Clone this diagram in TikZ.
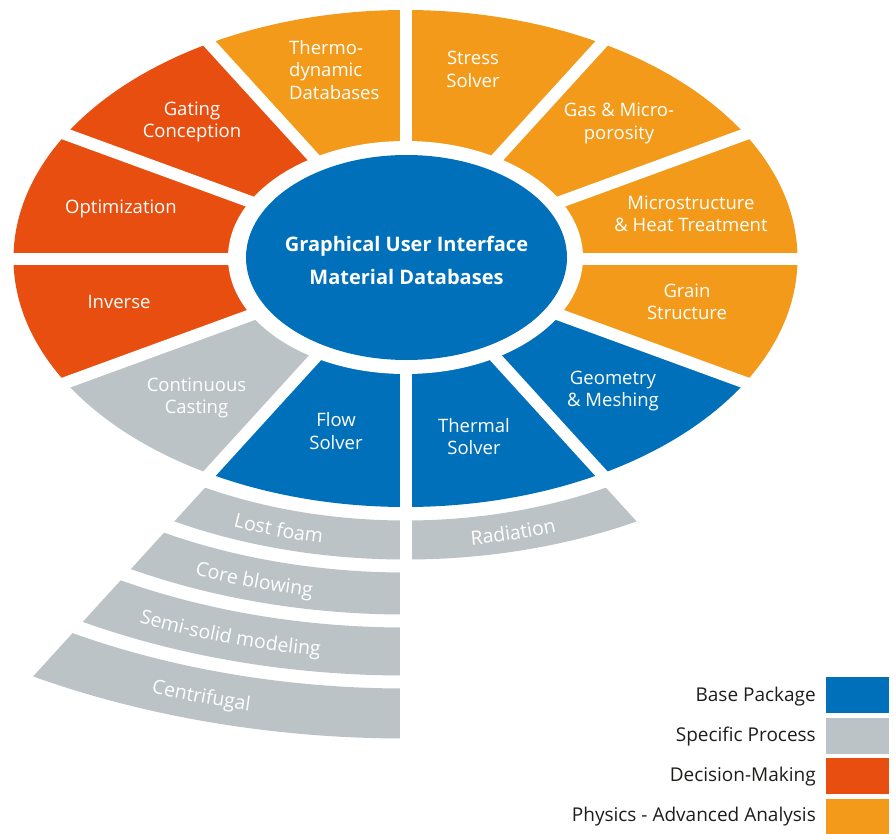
\documentclass[tikz,border=0pt]{standalone}
\usepackage{fontspec}
\setmainfont{Open Sans}
\usetikzlibrary{decorations.text}
\definecolor{cblue}{HTML}{0070BA}
\definecolor{cred}{HTML}{E84E0F}
\definecolor{corange}{HTML}{F39A1A}
\definecolor{cgrey}{HTML}{BCC3C6}
\definecolor{ctext}{HTML}{1D1D1B}
\begin{document}
\begin{tikzpicture}[x=1pt,y=1pt,
  lbl/.style={text=white, font=\fontsize{18.5}{22.5}\selectfont, align=center, inner sep=0pt},
  legtext/.style={text=ctext, font=\fontsize{19}{22.5}\selectfont, anchor=base east, inner sep=0pt},
  legbox/.style={minimum width=63pt, minimum height=36pt, inner sep=0pt, anchor=north west},
  gapline/.style={white, line width=12pt}]
\useasboundingbox (-405.5,-574.5) rectangle (490.5,258.5);
% ring sectors
\foreach \a/\b/\c in {90/120/corange, 60/90/corange, 30/60/corange, 0/30/corange,
  -30/0/corange, -60/-30/cblue, -90/-60/cblue, -120/-90/cblue, -150/-120/cgrey,
  180/210/cred, 150/180/cred, 120/150/cred}{
  \fill[\c] (0,0) -- (\a:392pt and 248.5pt)
    arc[start angle=\a, end angle=\b, x radius=392pt, y radius=248.5pt] -- cycle;
}
% outer bands
\foreach \a/\b/\ri/\rj/\Ri/\Rj in {-120/-90/262/301/413.3/474.8, -90/-60/262/301/413.3/474.8,
  -120/-90/314/356/495.3/561.6, -120/-90/369/417/582.1/657.8, -120/-90/430/480/678.3/757.2}{
  \fill[cgrey] (\a:\Ri pt and \ri pt)
    arc[start angle=\a, end angle=\b, x radius=\Ri pt, y radius=\ri pt]
    -- (\b:\Rj pt and \rj pt)
    arc[start angle=\b, end angle=\a, x radius=\Rj pt, y radius=\rj pt] -- cycle;
}
% white gaps
\foreach \a in {90,60,30,0,-30,-150,180,150,120}{
  \draw[gapline] (0,0) -- (\a:420pt and 266pt);
}
\draw[gapline] (0,0) -- (-60:500pt and 317pt);
\draw[gapline] (0,0) -- (-90:800pt and 507pt);
\draw[gapline] (0,0) -- (-120:800pt and 507pt);
% centre
\fill[white] (0,1) ellipse[x radius=177.5pt, y radius=116.5pt];
\fill[cblue] (1,1) ellipse[x radius=160.5pt, y radius=102.5pt];
\node[text=white, font=\bfseries\fontsize{20}{33}\selectfont, align=center, inner sep=0pt] (gui) at (1,-1.5)
  {Graphical User Interface\\Material Databases};
% sector labels
\node[lbl, align=left, anchor=west] (thermo) at (-116.5,188.5) {Thermo-\\dynamic\\Databases};
\node[lbl] (stress) at (67.5,189) {Stress\\Solver};
\node[lbl] (gas) at (213.5,135) {Gas \& Micro-\\porosity};
\node[lbl] (micro) at (285.5,44.5) {Microstructure\\\& Heat Treatment};
\node[lbl] (grain) at (281.5,-43.5) {Grain\\Structure};
\node[lbl] (geom) at (207.5,-132.5) {Geometry\\\& Meshing};
\node[lbl] (thermal) at (68.5,-178) {Thermal\\Solver};
\node[lbl] (flow) at (-69.5,-172.5) {Flow\\Solver};
\node[lbl] (cont) at (-209,-139.5) {Continuous\\Casting};
\node[lbl] (inverse) at (-286.5,-43.5) {Inverse};
\node[lbl] (optim) at (-284.5,49.5) {Optimization};
\node[lbl] (gating) at (-213.5,136.5) {Gating\\Conception};
% band labels
\path[decorate, decoration={text along path, text align=center,
  text={|\fontsize{19.5}{22.5}\selectfont\color{white}|Lost foam}}]
  (-120:457.0pt and 289.5pt) arc[start angle=-120, end angle=-93.1, x radius=457.0pt, y radius=289.5pt];
\path[decorate, decoration={text along path, text align=center,
  text={|\fontsize{19.5}{22.5}\selectfont\color{white}|Radiation}}]
  (-90:457.0pt and 289.5pt) arc[start angle=-90, end angle=-62, x radius=457.0pt, y radius=289.5pt];
\path[decorate, decoration={text along path, text align=center,
  text={|\fontsize{19.5}{22.5}\selectfont\color{white}|Core blowing}}]
  (-120:541.0pt and 343pt) arc[start angle=-120, end angle=-93.3, x radius=541.0pt, y radius=343pt];
\path[decorate, decoration={text along path, text align=center,
  text={|\fontsize{19.5}{22.5}\selectfont\color{white}|Semi-solid modeling}}]
  (-120:632.5pt and 401pt) arc[start angle=-120, end angle=-93, x radius=632.5pt, y radius=401pt];
\path[decorate, decoration={text along path, text align=center,
  text={|\fontsize{19.5}{22.5}\selectfont\color{white}|Centrifugal}}]
  (-120:730.3pt and 463pt) arc[start angle=-120, end angle=-93.2, x radius=730.3pt, y radius=463pt];
% legend
\node[legbox, fill=cblue] (box1) at (420.5,-418.5) {};
\node[legbox, fill=cgrey] (box2) at (420.5,-459) {};
\node[legbox, fill=cred] (box3) at (420.5,-499.5) {};
\node[legbox, fill=corange] (box4) at (420.5,-540) {};
\node[legtext] (leg1) at (410.5,-443) {Base Package};
\node[legtext] (leg2) at (410.5,-482.5) {Specific Process};
\node[legtext] (leg3) at (410.5,-522.5) {Decision-Making};
\node[legtext] (leg4) at (410.5,-562.5) {Physics - Advanced Analysis};
\end{tikzpicture}
\end{document}
